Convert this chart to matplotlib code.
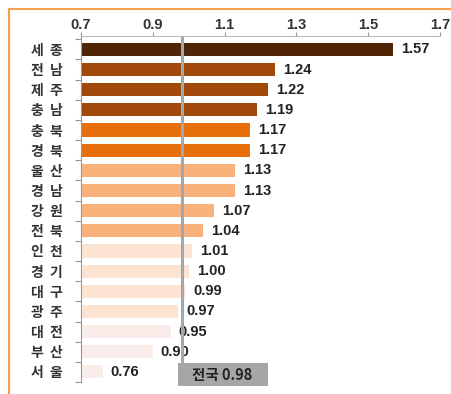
import matplotlib
matplotlib.use("Agg")
import matplotlib.pyplot as plt
from matplotlib.patches import Rectangle
from matplotlib.lines import Line2D

plt.rcParams['font.family'] = ['Noto Sans CJK KR', 'DejaVu Sans']

regions = ["세  종", "전  남", "제  주", "충  남", "충  북", "경  북", "울  산", "경  남", "강  원",
           "전  북", "인  천", "경  기", "대  구", "광  주", "대  전", "부  산", "서  울"]
values = [1.57, 1.24, 1.22, 1.19, 1.17, 1.17, 1.13, 1.13, 1.07,
          1.04, 1.01, 1.00, 0.99, 0.97, 0.95, 0.90, 0.76]
colors = ["#4f2407", "#a0490a", "#a0490a", "#a0490a", "#e8700c", "#e8700c",
          "#f9b27c", "#f9b27c", "#f9b27c", "#f9b27c",
          "#fde3d2", "#fde3d2", "#fde3d2", "#fde3d2",
          "#f9ece9", "#f9ece9", "#f9ece9"]
national = 0.98
national_label = "전국 0.98"
xticks = [0.7, 0.9, 1.1, 1.3, 1.5, 1.7]

W, H = 452, 394
fig = plt.figure(figsize=(W / 100, H / 100), dpi=100)
ax = fig.add_axes([81 / W, 1 - 382 / H, (440 - 81) / W, (382 - 36) / H])

y = list(range(len(regions)))
ax.barh(y, [v - 0.7 for v in values], left=0.7, height=0.65, color=colors, zorder=2)
ax.set_xlim(0.7, 1.7)
ax.set_ylim(16.38, -0.665)

for yi, v in zip(y, values):
    ax.annotate(f"{v:.2f}", (v, yi), xytext=(5.8, 0), textcoords="offset points",
                ha="left", va="center", fontsize=10.5, fontweight="bold",
                color="#222222", family=["Liberation Sans", "DejaVu Sans"], zorder=3)

# national reference line
ax.vlines(national, -0.665, 15.54, color="#a0a8b0", lw=2.2, zorder=4, clip_on=False)
box_left = national - 4 / 359
ax.add_patch(Rectangle((box_left, 15.54), 90 / 359, 1.18, facecolor="#a6a6a6",
                       edgecolor="none", clip_on=False, zorder=4))
ax.text(box_left + 45 / 359, 16.13, national_label, ha="center", va="center",
        fontsize=10.5, fontweight="bold", color="#222222", zorder=5, clip_on=False,
        family=["Noto Sans CJK KR", "DejaVu Sans"])

ax.xaxis.tick_top()
ax.set_xticks(xticks)
ax.set_xticklabels([f"{t:.1f}" for t in xticks], fontsize=10.5, fontweight="bold",
                   color="#333333", family=["Liberation Sans", "DejaVu Sans"])
ax.tick_params(axis="x", direction="out", length=3, width=0.8, color="#999999", pad=0)

ax.set_yticks(y)
ax.set_yticklabels(regions, fontsize=10, fontweight="bold", color="#333333")
ax.tick_params(axis="y", which="major", length=0, pad=13)
ax.set_yticks([i + 0.5 for i in range(-1, len(regions))], minor=True)
ax.tick_params(axis="y", which="minor", length=4, width=0.8, color="#999999", direction="out")

for s in ["right", "bottom"]:
    ax.spines[s].set_visible(False)
ax.spines["top"].set_color("#bbbbbb")
ax.spines["left"].set_color("#999999")
ax.spines["top"].set_linewidth(0.8)
ax.spines["left"].set_linewidth(0.8)

# orange frame (top and left)
fig.add_artist(Line2D([9 / W, 1], [1 - 9 / H, 1 - 9 / H], color="#f5a050", lw=1.5,
                      transform=fig.transFigure))
fig.add_artist(Line2D([9 / W, 9 / W], [0, 1 - 9 / H], color="#f5a050", lw=1.5,
                      transform=fig.transFigure))

fig.savefig("out.png", dpi=100)
